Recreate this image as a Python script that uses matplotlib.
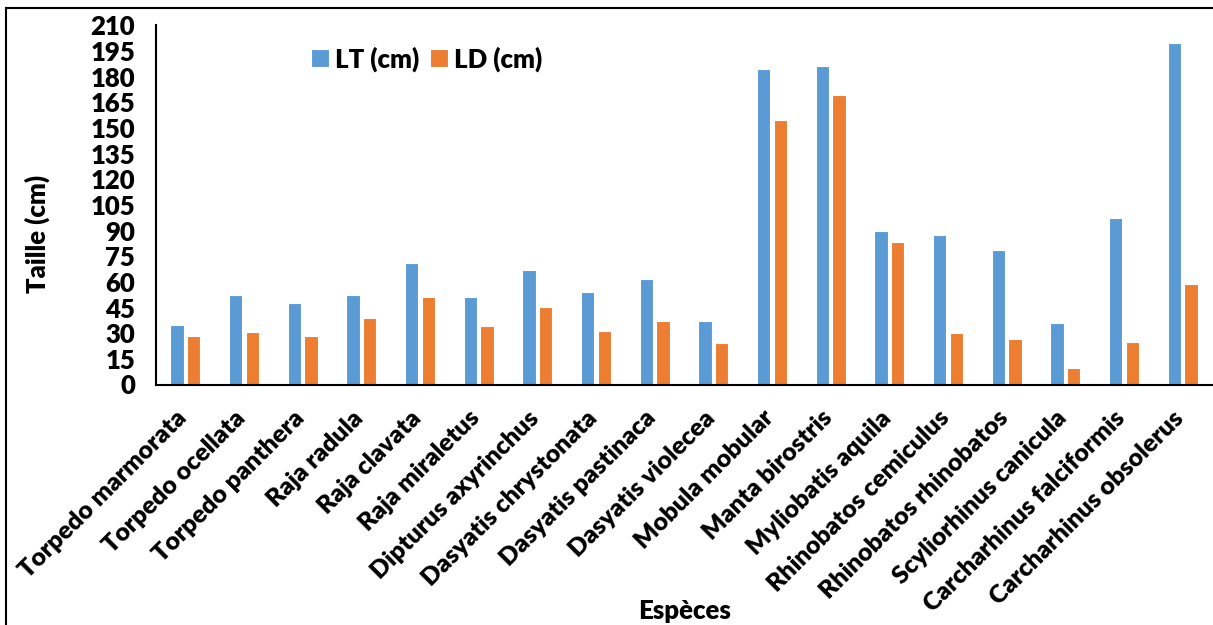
import matplotlib
matplotlib.use('Agg')

import matplotlib.pyplot as plt
import matplotlib.transforms as mtransforms
import numpy as np
from matplotlib.lines import Line2D

plt.rcParams['font.family'] = ['Lato', 'DejaVu Sans']
plt.rcParams['font.weight'] = 'heavy'

species = ["Torpedo marmorata", "Torpedo ocellata", "Torpedo panthera", "Raja radula",
           "Raja clavata", "Raja miraletus", "Dipturus axyrinchus", "Dasyatis chrystonata",
           "Dasyatis pastinaca", "Dasyatis violecea", "Mobula mobular", "Manta birostris",
           "Myliobatis aquila", "Rhinobatos cemiculus", "Rhinobatos rhinobatos",
           "Scyliorhinus canicula", "Carcharhinus falciformis", "Carcharhinus obsolerus"]
lt = [34.7, 52.3, 47.4, 52.6, 71, 51.1, 66.7, 54.2, 61.6, 36.9,
      184.5, 186.6, 89.7, 87.2, 78.6, 35.7, 97.5, 199.7]
ld = [28.3, 30.8, 28.3, 39, 51.1, 34.5, 45.2, 31.4, 37.4, 24.2,
      154.6, 169.6, 83.5, 30, 26.5, 9.6, 24.6, 58.7]

fs = 18.5

fig = plt.figure(figsize=(12.13, 6.25), dpi=100)
ax = fig.add_axes([156/1213, 1 - 384.5/625, 1056/1213, (384.5 - 25.5)/625])

x = np.arange(len(species))
w = 0.23
ax.bar(x - 0.142, lt, w, color='#5B9BD5', edgecolor='white', linewidth=0.8, label='LT (cm)')
ax.bar(x + 0.142, ld, w, color='#ED7D31', edgecolor='white', linewidth=0.8, label='LD (cm)')

ax.set_xlim(-0.5, len(species) - 0.5)
ax.set_ylim(0, 210)
ax.set_yticks(np.arange(0, 211, 15))
ax.set_xticks(x)
ax.set_xticklabels(species, rotation=45, ha='right', va='top', rotation_mode='anchor', fontsize=18)
ax.tick_params(length=0, labelsize=fs)
ax.tick_params(axis='x', pad=16, labelsize=18)
ax.tick_params(axis='y', pad=15)
shift = mtransforms.ScaledTranslation(-10/100, 0, fig.dpi_scale_trans)
for lab in ax.get_xticklabels():
    lab.set_transform(lab.get_transform() + shift)
for s in ['top', 'right']:
    ax.spines[s].set_visible(False)
for s in ['left', 'bottom']:
    ax.spines[s].set_linewidth(1.5)

ax.set_ylabel('Taille (cm)', fontsize=fs, fontweight='heavy')
ax.yaxis.set_label_coords(-0.1, 0.42)
fig.text(685/1213, 1 - 611/625, 'Espèces', fontsize=fs, ha='center', va='center')

ax.legend(loc='center left', bbox_to_anchor=(311/1213, 1 - 59/625), bbox_transform=fig.transFigure,
          ncol=2, frameon=False, fontsize=fs, handlelength=0.7, handleheight=0.7,
          handletextpad=0.25, columnspacing=0.4, borderpad=0, borderaxespad=0)

# outer frame (left and top edges)
fig.add_artist(Line2D([6/1213, 6/1213], [0, 1 - 8/625], color='black', lw=1.5, transform=fig.transFigure))
fig.add_artist(Line2D([6/1213, 1], [1 - 8/625, 1 - 8/625], color='black', lw=1.5, transform=fig.transFigure))

plt.savefig('out.png', dpi=100)
